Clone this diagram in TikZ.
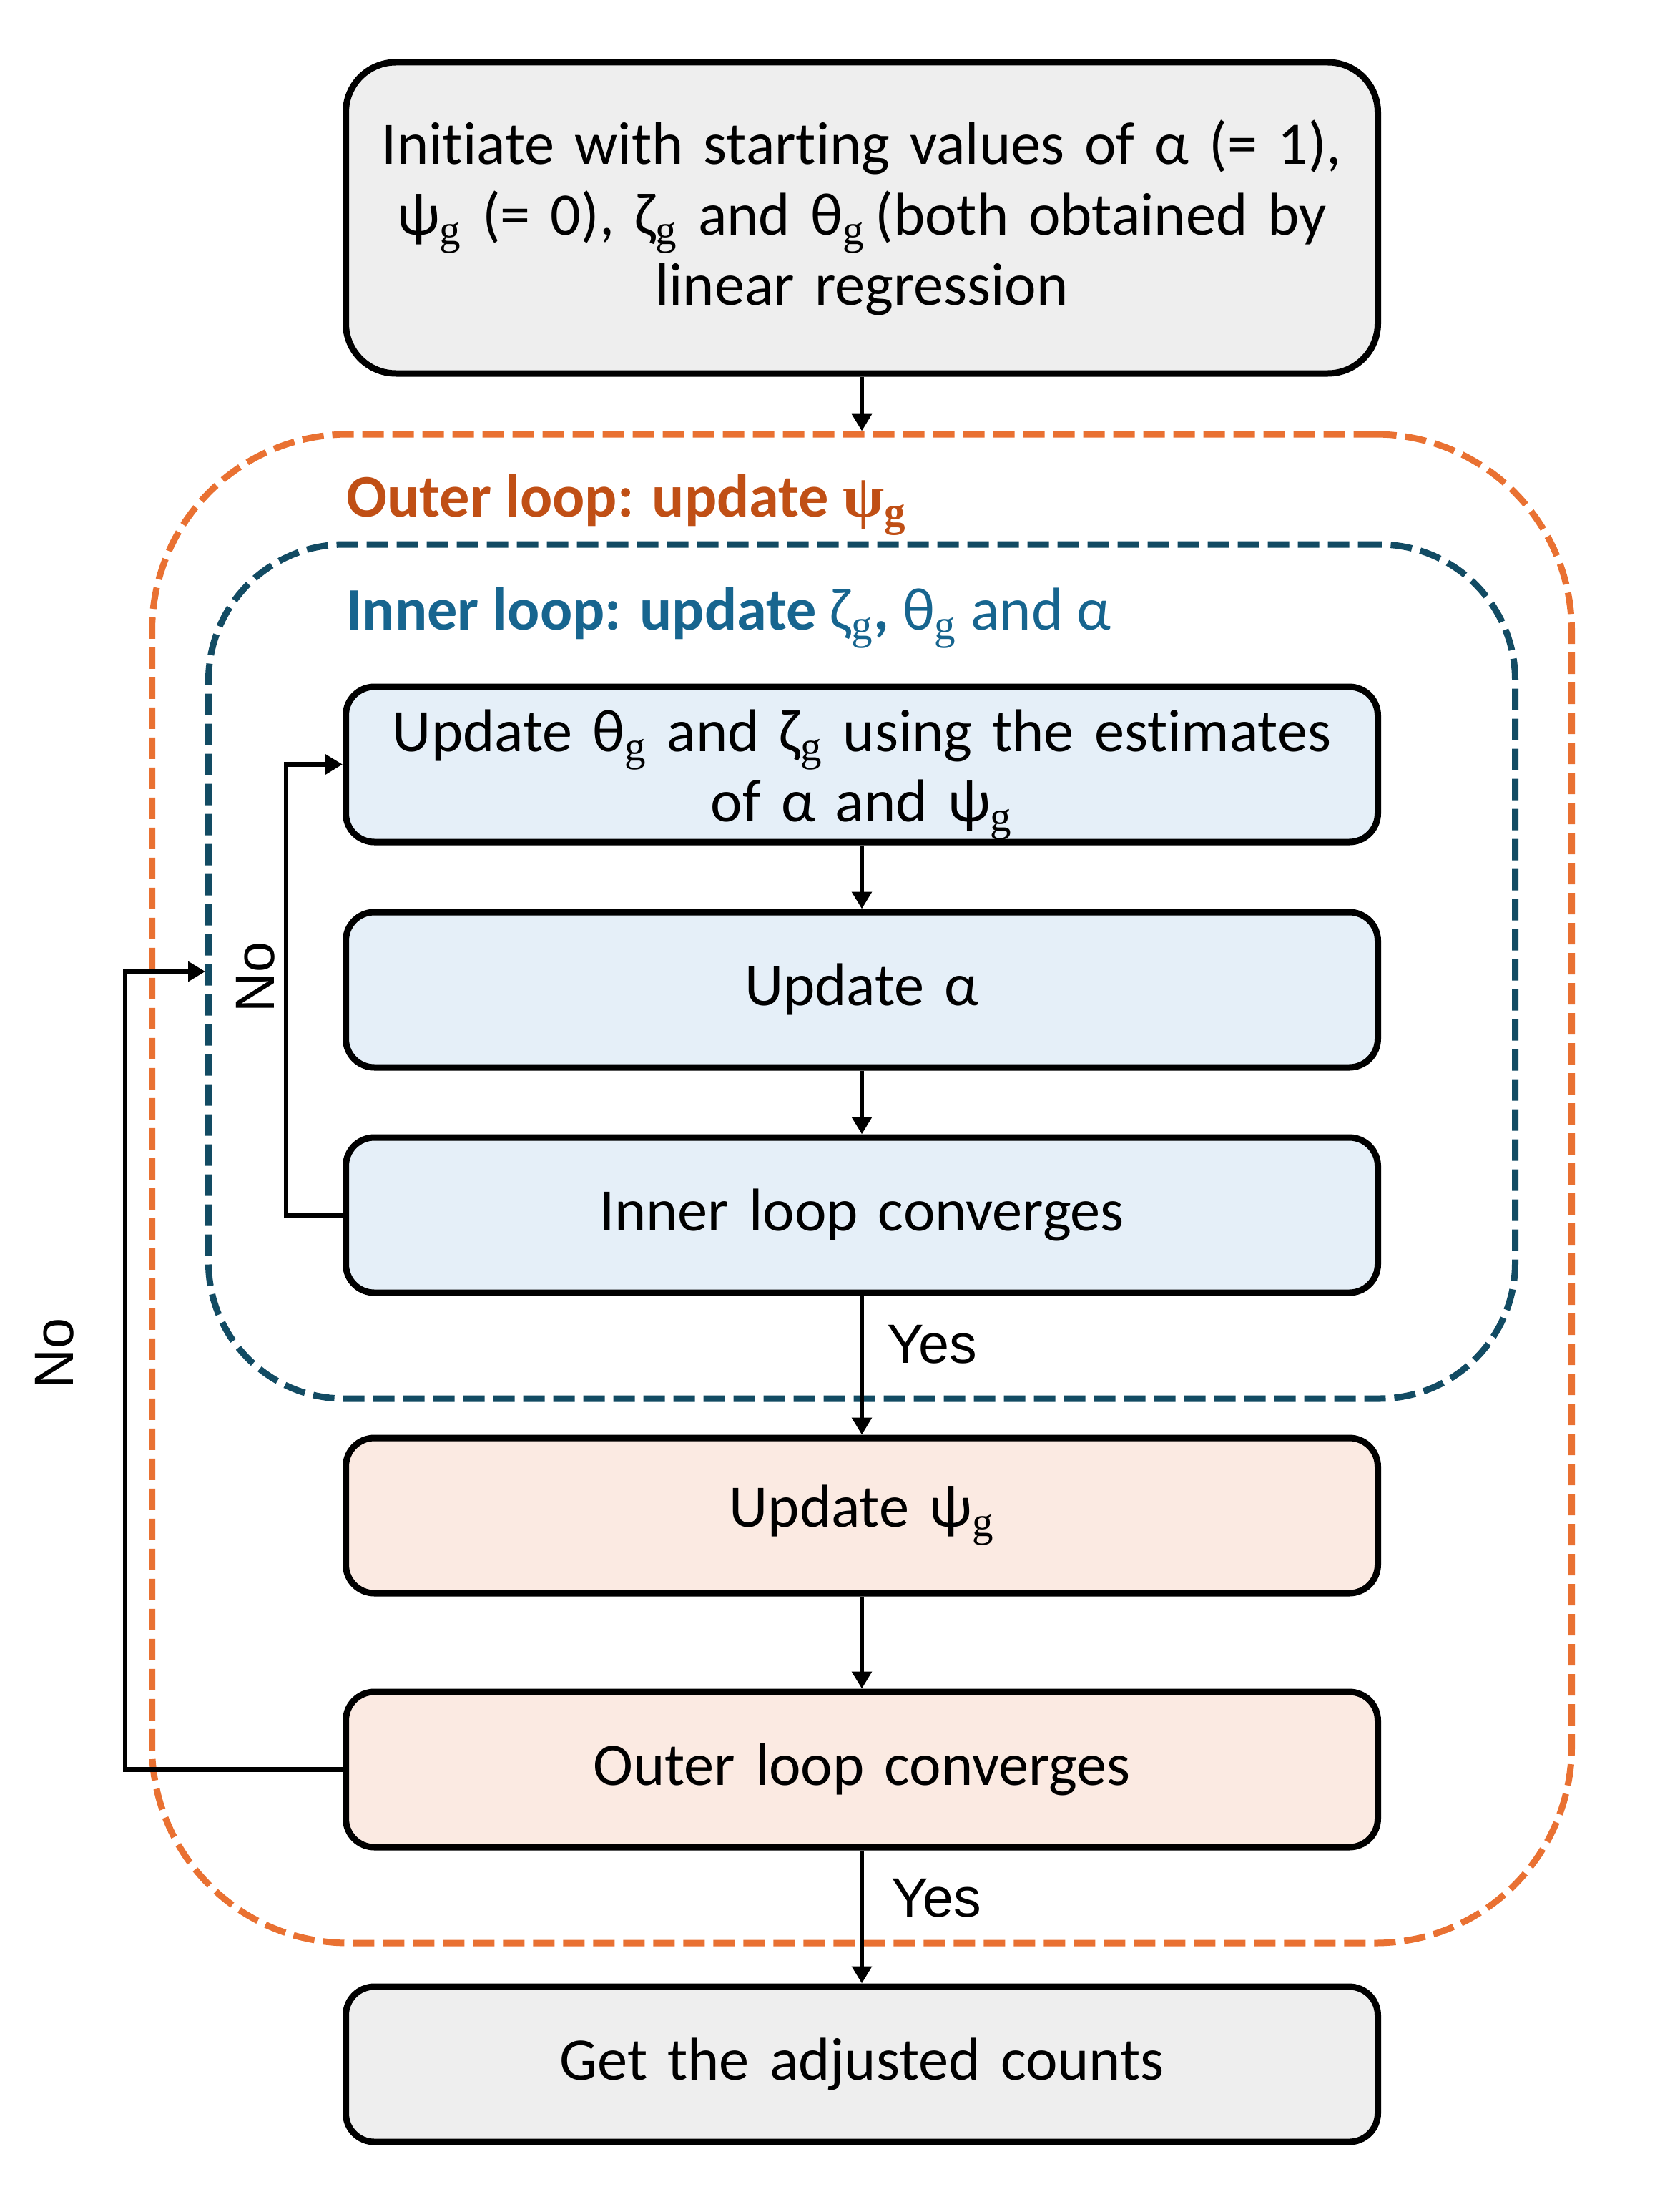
\documentclass[tikz,border=0pt]{standalone}
\usepackage{fontspec}
\setmainfont{Carlito}[Ligatures=NoCommon]
\newfontfamily\subfont{Liberation Serif}
\newfontfamily\answerfont{Liberation Sans}
\usepackage{xcolor}
\usepackage{tikz}
\usetikzlibrary{shapes, arrows.meta, positioning}

\definecolor{outerorange}{HTML}{E97132}
\definecolor{outertext}{HTML}{C04F15}
\definecolor{innerteal}{HTML}{124B63}
\definecolor{innertext}{HTML}{17658F}
\definecolor{boxgrey}{HTML}{EEEEEE}
\definecolor{boxblue}{HTML}{E5EFF8}
\definecolor{boxpeach}{HTML}{FBEAE2}

\newcommand{\gsub}{\textsubscript{\subfont g}}

\begin{document}
\begin{tikzpicture}[
    font=\fontsize{24}{28}\selectfont,
    node distance=0.89cm,
    block/.style={
        draw,
        line width=0.09cm,
        rounded corners=0.4cm,
        align=center,
        text width=13.8cm,
        minimum width=14.43cm,
        minimum height=2.17cm
    },
    greyblock/.style={block, fill=boxgrey},
    innerblock/.style={block, fill=boxblue},
    outerblock/.style={block, fill=boxpeach},
    loopframe/.style={
        draw,
        line width=0.09cm,
        dash pattern=on 0.3cm off 0.12cm
    },
    answer/.style={font=\answerfont\fontsize{22}{26}\selectfont, inner sep=0pt},
    line/.style={draw, line width=0.065cm, -{Triangle[width=0.27cm, length=0.24cm]}}
]

\useasboundingbox (0,0) rectangle (23.34,-30.92);

% loop frames
\node[loopframe, draw=outerorange, rounded corners=2.75cm,
      minimum width=19.85cm, minimum height=21.09cm] (outer) at (12.05,-16.615) {};
\node[loopframe, draw=innerteal, rounded corners=1.9cm,
      minimum width=18.27cm, minimum height=11.94cm] (inner) at (12.05,-13.58) {};

\node[anchor=base west, text=outertext, font=\bfseries\fontsize{24}{28}\selectfont] (outertitle) at (4.72,-7.22)
{Outer loop: update {\subfont ψ}\gsub};
\node[anchor=base west, text=innertext] (innertitle) at (4.72,-8.80)
{\textbf{Inner loop: update} ζ\gsub\textbf{,} θ\gsub{} and α};

% steps
\node[greyblock, rounded corners=0.7cm, minimum height=4.35cm] (init) at (12.05,-3.045)
{Initiate with starting values of α (= 1),\\ψ\gsub{} (= 0), ζ\gsub{} and θ\gsub\,(both obtained by\\linear regression};

\node[innerblock, inner ysep=0pt] (updtheta) at (12.05,-10.685)
{\rule{0pt}{25pt}Update θ\gsub{} and ζ\gsub{} using the estimates\\of α and ψ\gsub};

\node[innerblock, below=of updtheta] (updalpha) {Update α};

\node[innerblock, below=of updalpha] (innerconv) {Inner loop converges};

\node[outerblock, below=1.94cm of innerconv] (updpsi) {Update ψ\gsub};

\node[outerblock, below=1.29cm of updpsi] (outerconv) {Outer loop converges};

\node[greyblock, below=1.86cm of outerconv] (final) {Get the adjusted counts};

\node[answer, rotate=90] (innerno) at (3.57,-13.66) {No};
\node[answer, rotate=90] (outerno) at (0.76,-18.92) {No};

\draw[line] (init.south) -- (outer.north);
\draw[line] (updtheta) -- (updalpha);
\draw[line] (updalpha) -- (innerconv);
\draw[line] (innerconv) -- node[answer, anchor=west, pos=0.35, xshift=0.32cm] (inneryes) {Yes} (updpsi);
\draw[line] (updpsi) -- (outerconv);
\draw[line] (outerconv) -- node[answer, anchor=west, pos=0.36, xshift=0.38cm] (outeryes) {Yes} (final);

\draw[line] (innerconv.west) -- ++(-0.79,0) |- (updtheta.west);
\draw[line] (outerconv.west) -- ++(-3.04,0) |- (inner.west);

\end{tikzpicture}
\end{document}
